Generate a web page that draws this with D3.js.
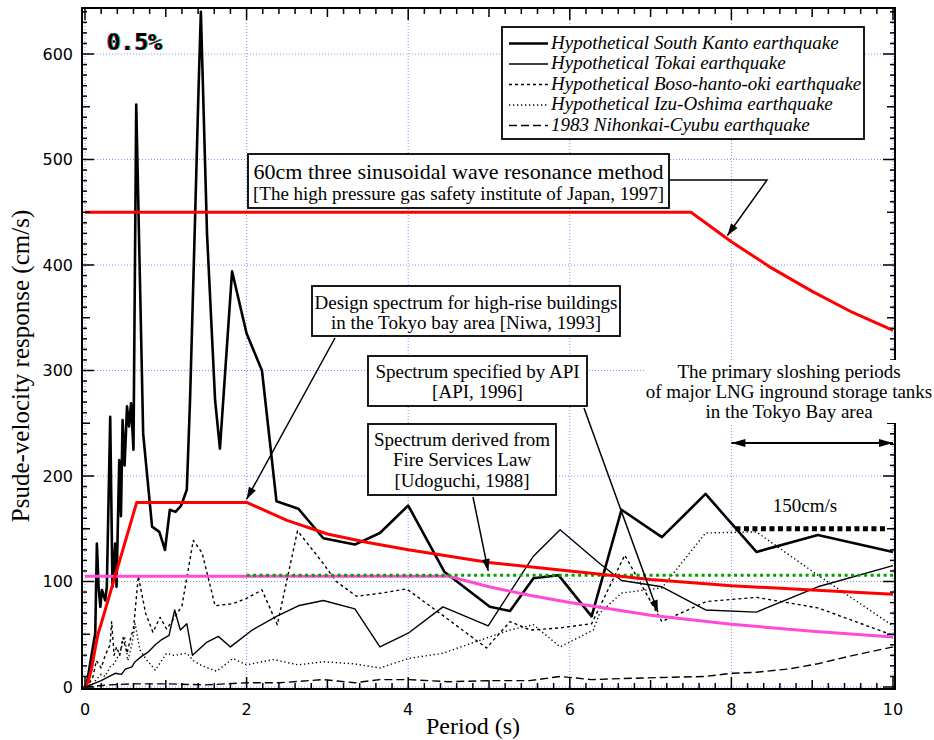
<!DOCTYPE html>
<html>
<head>
<meta charset="utf-8">
<script src="https://cdn.jsdelivr.net/npm/d3@7"></script>
<style>
  html, body { margin: 0; padding: 0; background: #fff; }
  svg { display: block; }
</style>
</head>
<body>
<svg id="chart" width="934" height="740"></svg>
<script>
// ---- Response spectra (period in s, pseudo-velocity in cm/s), damping 0.5% ----
const southKantoT = [0, 0.02, 0.085, 0.127, 0.147, 0.168, 0.19, 0.21, 0.25, 0.27, 0.312, 0.34, 0.374, 0.39, 0.424, 0.445, 0.465, 0.49, 0.52, 0.545, 0.57, 0.6, 0.634, 0.72, 0.83, 0.92, 0.99, 1.05, 1.12, 1.19, 1.26, 1.30, 1.364, 1.406, 1.434, 1.51, 1.61, 1.67, 1.82, 2.0, 2.19, 2.37, 2.64, 2.95, 3.34, 3.65, 4.0, 4.45, 5.01, 5.26, 5.55, 5.86, 6.27, 6.64, 7.14, 7.68, 8.31, 9.07, 10.0];
const southKantoV = [0, 2, 32, 51, 136, 95, 76, 92, 82, 95, 256, 95, 136, 95, 215, 162, 253, 210, 266, 247, 269, 225, 552, 240, 152, 147, 130, 168, 166, 172, 187, 272, 449, 569, 640, 430, 272, 226, 394, 335, 300, 176, 169, 141, 135, 146, 172, 109, 76, 72, 103, 106, 67, 168, 142, 183, 128, 144, 128];

const tokaiT = [0, 0.1, 0.2, 0.3, 0.374, 0.45, 0.5, 0.58, 0.62, 0.7, 0.78, 0.87, 0.95, 1.04, 1.11, 1.18, 1.26, 1.33, 1.5, 1.65, 1.8, 2.07, 2.37, 2.64, 2.95, 3.34, 3.65, 4.0, 4.43, 4.99, 5.55, 5.88, 6.37, 6.64, 7.14, 7.68, 8.31, 9.07, 10.0];
const tokaiV = [0, 3, 6, 10, 13, 12, 17, 19, 24, 29, 33, 40, 45, 49, 73, 54, 60, 30, 42, 48, 38, 54, 67, 77, 82, 74, 38, 51, 76, 58, 124, 149, 117, 101, 95, 73, 71, 95, 115];

const bosoT = [0, 0.05, 0.1, 0.14, 0.2, 0.25, 0.31, 0.33, 0.36, 0.39, 0.43, 0.47, 0.52, 0.57, 0.6, 0.66, 0.75, 0.84, 0.93, 1.01, 1.1, 1.2, 1.34, 1.45, 1.61, 1.83, 2.0, 2.19, 2.38, 2.63, 2.92, 3.11, 3.36, 3.67, 3.98, 4.39, 4.97, 5.26, 5.51, 5.88, 6.27, 6.68, 7.14, 7.69, 8.31, 9.07, 10.0];
const bosoV = [0, 3, 10, 25, 18, 30, 40, 62, 30, 38, 30, 47, 32, 48, 55, 105, 70, 52, 66, 55, 65, 77, 139, 127, 77, 79, 84, 92, 59, 148, 120, 100, 86, 89, 93, 70, 37, 62, 54, 56, 60, 125, 62, 81, 85, 75, 49];

const izuT = [0, 0.1, 0.14, 0.2, 0.25, 0.31, 0.36, 0.43, 0.49, 0.53, 0.58, 0.62, 0.68, 0.76, 0.87, 1.01, 1.1, 1.26, 1.34, 1.45, 1.63, 1.83, 2.0, 2.33, 2.64, 2.95, 3.32, 3.65, 4.0, 4.43, 4.99, 5.26, 5.55, 5.88, 6.29, 6.37, 6.64, 7.14, 7.68, 8.31, 9.07, 10.0];
const izuV = [0, 3, 7, 12, 10, 19, 22, 32, 48, 25, 40, 60, 35, 26, 16, 32, 30, 32, 25, 20, 15, 27, 21, 26, 21, 24, 22, 18, 27, 32, 47, 54, 59, 38, 54, 70, 89, 94, 146, 147, 106, 58];

const nihonkaiT = [0, 0.3, 0.6, 1.0, 1.5, 2.0, 2.4, 2.95, 3.34, 3.65, 4.0, 4.5, 5.0, 5.5, 5.88, 6.27, 6.64, 7.14, 7.68, 8.0, 8.31, 8.7, 9.07, 9.45, 10.0];
const nihonkaiV = [0, 2, 3, 3, 2, 4, 4, 7, 4, 7, 7, 5, 6, 6, 10, 7, 8, 9, 10, 13, 14, 17, 22, 29, 38];

// ---- Design / code spectra ----
const sinusoidalT = [0, 7.5, 8, 8.5, 9, 9.5, 10];
const sinusoidalV = [450, 450, 422, 397, 375, 355, 338];

const niwaT = [0, 0.04, 0.08, 0.12, 0.16, 0.2, 0.64, 2.0, 2.5, 3, 3.5, 4, 5, 6, 7, 8, 9, 10];
const niwaV = [0, 5, 17, 34, 50, 60, 175, 175, 158, 145, 137, 130, 118, 110, 102, 96, 92, 88];

const apiT = [0, 4.5, 5, 5.5, 6, 7, 8, 9, 10];
const apiV = [105, 105, 95, 87, 80, 68, 59.5, 52.8, 47.5];

const fireLawT = [2, 10];
const fireLawV = [106, 106];

const sloshT = [8.05, 9.93];
const sloshV = [150, 150];

// ---- Axis ticks ----
const xTickValues = [0, 2, 4, 6, 8, 10];
const yTickValues = [0, 100, 200, 300, 400, 500, 600];

const legendLabels = [
  "Hypothetical South Kanto earthquake",
  "Hypothetical Tokai earthquake",
  "Hypothetical Boso-hanto-oki earthquake",
  "Hypothetical Izu-Oshima earthquake",
  "1983 Nihonkai-Cyubu earthquake"
];

const zip = (t, v) => t.map((d, i) => [d, v[i]]);

const svg = d3.select("#chart");
const x = d3.scaleLinear().domain([0, 10]).range([85, 893]);
const y = d3.scaleLinear().domain([0, 600]).range([687, 54]);
const frame = { x0: 82, x1: 895, y0: 8, y1: 689 };

const serif = "'Liberation Serif', 'Times New Roman', serif";
const sans = "'DejaVu Sans', sans-serif";

// arrowhead markers
const defs = svg.append("defs");
defs.append("marker").attr("id", "arrow")
  .attr("viewBox", "0 0 12 8").attr("refX", 12).attr("refY", 4)
  .attr("markerWidth", 13).attr("markerHeight", 8)
  .attr("markerUnits", "userSpaceOnUse").attr("orient", "auto")
  .append("path").attr("d", "M0,0 L12,4 L0,8 Z").attr("fill", "#000");
defs.append("marker").attr("id", "arrowBig")
  .attr("viewBox", "0 0 14 8").attr("refX", 14).attr("refY", 4)
  .attr("markerWidth", 15).attr("markerHeight", 8)
  .attr("markerUnits", "userSpaceOnUse").attr("orient", "auto-start-reverse")
  .append("path").attr("d", "M0,0 L14,4 L0,8 Z").attr("fill", "#000");

// red/cyan colour fringe for the damping label
const fringe = defs.append("filter").attr("id", "fringe")
  .attr("x", "-10%").attr("y", "-10%").attr("width", "120%").attr("height", "120%");
fringe.append("feOffset").attr("in", "SourceAlpha").attr("dx", -1).attr("dy", 0).attr("result", "offL");
fringe.append("feFlood").attr("flood-color", "#e00000").attr("result", "red");
fringe.append("feComposite").attr("in", "red").attr("in2", "offL").attr("operator", "in").attr("result", "redL");
fringe.append("feOffset").attr("in", "SourceAlpha").attr("dx", 1).attr("dy", 0).attr("result", "offR");
fringe.append("feFlood").attr("flood-color", "#00c8c8").attr("result", "cyan");
fringe.append("feComposite").attr("in", "cyan").attr("in2", "offR").attr("operator", "in").attr("result", "cyanR");
const merge = fringe.append("feMerge");
merge.append("feMergeNode").attr("in", "redL");
merge.append("feMergeNode").attr("in", "cyanR");
merge.append("feMergeNode").attr("in", "SourceGraphic");

// ---- grid ----
const grid = svg.append("g").attr("stroke", "#8c8cff").attr("stroke-width", 1).attr("stroke-dasharray", "1,2");
xTickValues.forEach(t => grid.append("line")
  .attr("x1", x(t)).attr("x2", x(t)).attr("y1", frame.y0).attr("y2", frame.y1));
yTickValues.forEach(v => grid.append("line")
  .attr("x1", frame.x0).attr("x2", frame.x1).attr("y1", y(v)).attr("y2", y(v)));

// ---- curves ----
const line = d3.line().x(d => x(d[0])).y(d => y(d[1]));
const curves = svg.append("g").attr("fill", "none").attr("stroke-linejoin", "round");

function draw(t, v, stroke, width, dash) {
  curves.append("path").datum(zip(t, v)).attr("d", line)
    .attr("stroke", stroke).attr("stroke-width", width)
    .attr("stroke-dasharray", dash || null);
}

const seriesStyles = [
  { w: 2.6, dash: null },
  { w: 1.4, dash: null },
  { w: 1.4, dash: "3,3" },
  { w: 1.4, dash: "1.3,2.7" },
  { w: 1.4, dash: "8,4" }
];

draw(nihonkaiT, nihonkaiV, "#000", 1.4, "8,4");
draw(izuT, izuV, "#000", 1.4, "1.3,2.7");
draw(bosoT, bosoV, "#000", 1.4, "3,3");
draw(tokaiT, tokaiV, "#000", 1.4);
draw(southKantoT, southKantoV, "#000", 2.6);

draw(apiT, apiV, "#ff4ad8", 3);
draw(fireLawT, fireLawV, "#00a000", 3, "3,3.5");
draw(niwaT, niwaV, "#ff0000", 3);
draw(sinusoidalT, sinusoidalV, "#ff0000", 3);
draw(sloshT, sloshV, "#000", 5, "5,3.5");

// ---- annotations ----
const ann = svg.append("g");

function box(x0, y0, x1, y1) {
  ann.append("rect").attr("x", x0).attr("y", y0).attr("width", x1 - x0).attr("height", y1 - y0)
    .attr("fill", "#fff").attr("stroke", "#000").attr("stroke-width", 1.8);
}
function text(str, cx, by, size) {
  return ann.append("text").attr("x", cx).attr("y", by)
    .attr("font-family", serif).attr("font-size", size)
    .attr("text-anchor", "middle").attr("fill", "#000").text(str);
}
function callout(points) {
  ann.append("path").attr("d", d3.line()(points))
    .attr("fill", "none").attr("stroke", "#000").attr("stroke-width", 1.5)
    .attr("marker-end", "url(#arrow)");
}

// 60 cm sinusoidal resonance method
callout([[669, 180], [767, 180], [x(7.95), y(428)]]);
box(248, 154, 669, 208);
text("60cm three sinusoidal wave resonance method", 458.5, 178.5, 22);
text("[The high pressure gas safety institute of Japan, 1997]", 458.5, 199.5, 19);

// Niwa design spectrum
callout([[335, 338], [x(2.0), y(178)]]);
box(312, 286, 620, 336);
text("Design spectrum for high-rise buildings", 466, 308.5, 19);
text("in the Tokyo bay area [Niwa, 1993]", 466, 328.5, 19);

// API spectrum
callout([[584, 408], [x(7.09), y(71)]]);
box(368, 356, 587, 406);
text("Spectrum specified by API", 477.5, 377.5, 19);
text("[API, 1996]", 477.5, 397.5, 19);

// Fire Services Law spectrum
callout([[473, 497], [x(4.99), y(110)]]);
box(368, 424, 556, 495);
text("Spectrum derived from", 462, 445.5, 19);
text("Fire Services Law", 462, 466, 19);
text("[Udoguchi, 1988]", 462, 487, 19);

// ---- frame and ticks ----
const axes = svg.append("g").attr("stroke", "#000");
axes.append("rect").attr("x", frame.x0).attr("y", frame.y0)
  .attr("width", frame.x1 - frame.x0).attr("height", frame.y1 - frame.y0)
  .attr("fill", "none").attr("stroke-width", 2);

const xMinor = d3.range(0, 10.001, 0.2);
xMinor.forEach(t => {
  const r = Math.round(t * 10) / 10;
  const len = (r % 2 === 0) ? 12 : (Number.isInteger(r) ? 9 : 6);
  const px = x(r);
  axes.append("line").attr("x1", px).attr("x2", px).attr("y1", frame.y1).attr("y2", frame.y1 - len).attr("stroke-width", 1.5);
  axes.append("line").attr("x1", px).attr("x2", px).attr("y1", frame.y0).attr("y2", frame.y0 + len).attr("stroke-width", 1.5);
});
const yMinor = d3.range(0, 641, 10);
yMinor.forEach(v => {
  const len = (v % 100 === 0) ? 12 : (v % 50 === 0 ? 8 : 5);
  const py = y(v);
  axes.append("line").attr("x1", frame.x0).attr("x2", frame.x0 + len).attr("y1", py).attr("y2", py).attr("stroke-width", 1.5);
  axes.append("line").attr("x1", frame.x1).attr("x2", frame.x1 - len).attr("y1", py).attr("y2", py).attr("stroke-width", 1.5);
});

// tick labels
const labels = svg.append("g").attr("font-family", sans).attr("font-size", 16).attr("fill", "#000");
xTickValues.forEach(t => labels.append("text").attr("x", x(t)).attr("y", 715)
  .attr("text-anchor", "middle").text(t));
yTickValues.forEach(v => labels.append("text").attr("x", 73).attr("y", y(v))
  .attr("dy", "0.36em").attr("text-anchor", "end").text(v));

// axis titles
svg.append("text").attr("x", 473).attr("y", 734).attr("text-anchor", "middle")
  .attr("font-family", serif).attr("font-size", 24).text("Period (s)");
svg.append("text").attr("transform", "translate(29,366) rotate(-90)").attr("text-anchor", "middle")
  .attr("font-family", serif).attr("font-size", 25).text("Psude-velocity response (cm/s)");

// sloshing period note (on a white backing)
svg.append("rect").attr("x", 645).attr("y", 360).attr("width", 289).attr("height", 63).attr("fill", "#fff");
const noteX = 789;
["The primary sloshing periods", "of major LNG inground storage tanks", "in the Tokyo Bay area"]
  .forEach((s, i) => svg.append("text").attr("x", noteX).attr("y", 377.5 + i * 20)
    .attr("text-anchor", "middle").attr("font-family", serif).attr("font-size", 19).text(s));
svg.append("line").attr("x1", x(8)).attr("x2", x(10)).attr("y1", 443).attr("y2", 443)
  .attr("stroke", "#000").attr("stroke-width", 2)
  .attr("marker-start", "url(#arrowBig)").attr("marker-end", "url(#arrowBig)");

svg.append("text").attr("x", 805).attr("y", 511.5).attr("text-anchor", "middle")
  .attr("font-family", serif).attr("font-size", 19).text("150cm/s");

// damping ratio label
svg.append("text").attr("x", 107).attr("y", 50)
  .attr("font-family", "'DejaVu Sans Mono', monospace").attr("font-weight", "bold")
  .attr("font-size", 23).attr("fill", "#000").attr("filter", "url(#fringe)").text("0.5%");

// ---- legend ----
const lg = svg.append("g");
lg.append("rect").attr("x", 502).attr("y", 27).attr("width", 362).attr("height", 112)
  .attr("fill", "#fff").attr("stroke", "#000").attr("stroke-width", 1.8);
seriesStyles.forEach((s, i) => {
  const yy = 43.5 + i * 20.5;
  lg.append("line").attr("x1", 509).attr("x2", 548).attr("y1", yy).attr("y2", yy)
    .attr("stroke", "#000").attr("stroke-width", s.w).attr("stroke-dasharray", s.dash);
  lg.append("text").attr("x", 551).attr("y", yy + 5).attr("font-family", serif)
    .attr("font-style", "italic").attr("font-size", 19).text(legendLabels[i]);
});
</script>
</body>
</html>
